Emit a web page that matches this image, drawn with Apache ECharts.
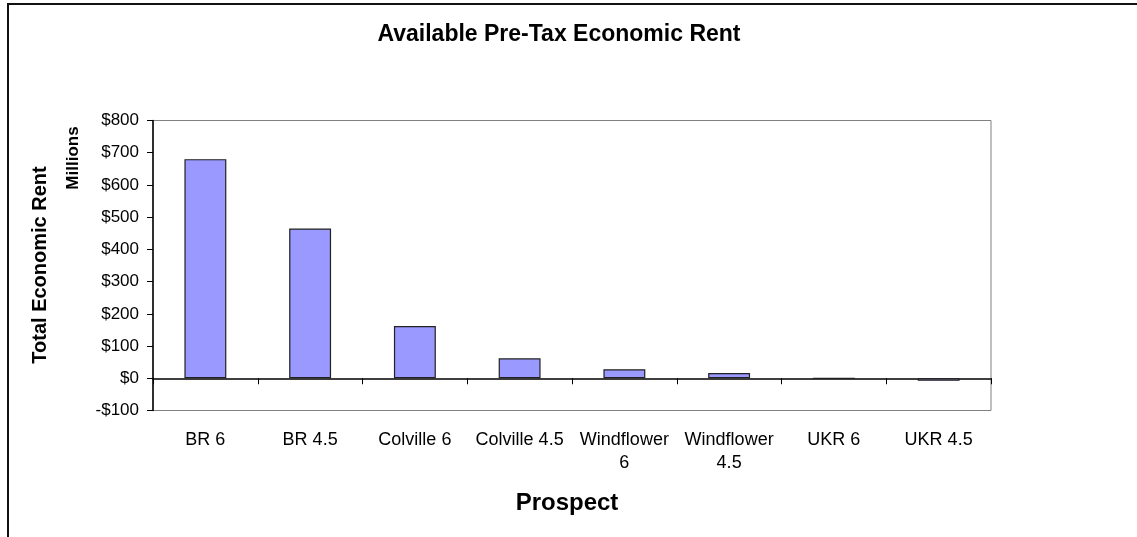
<!DOCTYPE html>
<html>
<head>
<meta charset="utf-8">
<title>Available Pre-Tax Economic Rent</title>
<script src="https://cdn.jsdelivr.net/npm/echarts@6/dist/echarts.min.js"></script>
<style>
  html, body { margin: 0; padding: 0; background: #fff; }
  #chart { width: 1137px; height: 537px; }
</style>
</head>
<body>
<div id="chart"></div>
<script>
// Prospects on the category axis
const categories = ['BR 6', 'BR 4.5', 'Colville 6', 'Colville 4.5', 'Windflower\n6', 'Windflower\n4.5', 'UKR 6', 'UKR 4.5'];
// Total economic rent, millions of dollars
const rentValues = [680, 465, 162, 62, 28, 16, 0, -8];
// Value axis range and step
const yMin = -100;
const yMax = 800;
const yStep = 100;

const FONT = 'Liberation Sans, Arial, sans-serif';

const chart = echarts.init(document.getElementById('chart'), null, { renderer: 'canvas' });

chart.setOption({
  animation: false,
  backgroundColor: '#ffffff',
  grid: {
    left: 153, right: 146, top: 120.5, bottom: 126.5,
    show: true, borderColor: '#808080', borderWidth: 1, backgroundColor: 'transparent'
  },
  xAxis: [
    {
      // axis line and tick marks sitting on the zero value
      type: 'category',
      data: categories,
      position: 'bottom',
      axisLine: { show: true, onZero: true, lineStyle: { color: '#000', width: 1.5 } },
      axisTick: { show: true, length: 6, alignWithLabel: false, lineStyle: { color: '#000', width: 1 } },
      axisLabel: { show: false },
      splitLine: { show: false }
    },
    {
      // category names along the bottom edge of the plot
      type: 'category',
      data: categories,
      position: 'bottom',
      axisLine: { show: false, onZero: false },
      axisTick: { show: false },
      axisLabel: {
        show: true, interval: 0, margin: 18,
        fontFamily: FONT, fontSize: 18, color: '#000', lineHeight: 23, align: 'center'
      },
      splitLine: { show: false }
    }
  ],
  yAxis: {
    type: 'value',
    min: yMin, max: yMax, interval: yStep,
    axisLine: { show: true, onZero: false, lineStyle: { color: '#000', width: 1.5 } },
    axisTick: { show: true, length: 6, lineStyle: { color: '#000', width: 1 } },
    axisLabel: {
      margin: 14, fontFamily: FONT, fontSize: 17, color: '#000',
      formatter: v => (v < 0 ? '-$' + Math.abs(v) : '$' + v)
    },
    splitLine: { show: false }
  },
  series: [{
    type: 'bar',
    xAxisIndex: 0,
    data: rentValues,
    barCategoryGap: '60%',
    itemStyle: { color: '#9999FF', borderColor: '#222', borderWidth: 1.2 }
  }],
  graphic: [
    {
      type: 'rect', silent: true, z: -1,
      shape: { x: 8, y: 4, width: 1400, height: 900 },
      style: { fill: 'transparent', stroke: '#111', lineWidth: 2 }
    },
    {
      type: 'text', x: 559, y: 35,
      style: {
        text: 'Available Pre-Tax Economic Rent', fontFamily: FONT, fontSize: 23, fontWeight: 'bold',
        fill: '#000', align: 'center', verticalAlign: 'middle'
      }
    },
    {
      type: 'text', x: 567, y: 503,
      style: {
        text: 'Prospect', fontFamily: FONT, fontSize: 24, fontWeight: 'bold',
        fill: '#000', align: 'center', verticalAlign: 'middle'
      }
    },
    {
      type: 'text', x: 40, y: 265, rotation: Math.PI / 2,
      style: {
        text: 'Total Economic Rent', fontFamily: FONT, fontSize: 20, fontWeight: 'bold',
        fill: '#000', align: 'center', verticalAlign: 'middle'
      }
    },
    {
      type: 'text', x: 73, y: 158, rotation: Math.PI / 2,
      style: {
        text: 'Millions', fontFamily: FONT, fontSize: 17, fontWeight: 'bold',
        fill: '#000', align: 'center', verticalAlign: 'middle'
      }
    }
  ]
});
</script>
</body>
</html>
